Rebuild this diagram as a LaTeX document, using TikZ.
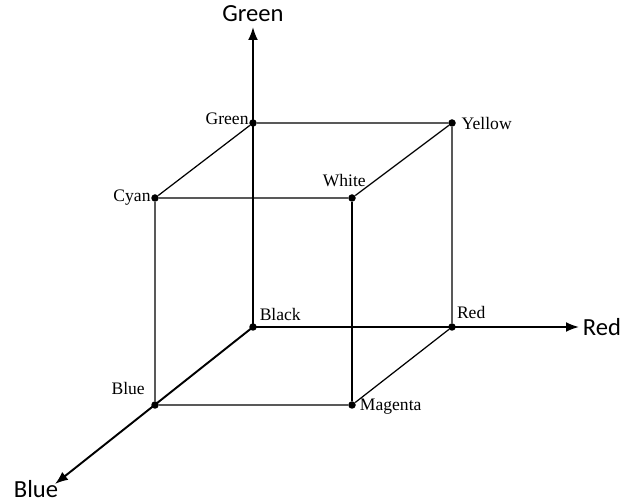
\documentclass[tikz,border=0pt]{standalone}
\usepackage{fontspec}
\setmainfont{Liberation Serif}
\newfontfamily\axisfont{Carlito}
\usetikzlibrary{arrows.meta,positioning}

\begin{document}
\begin{tikzpicture}[x=0.02cm, y=-0.02cm, >=Latex,
  corner/.style={circle, fill=black, inner sep=0pt, minimum size=0.15cm},
  vlabel/.style={font=\fontsize{10}{12}\selectfont, inner sep=1pt},
  alabel/.style={font=\axisfont\fontsize{14}{16}\selectfont, inner sep=1pt},
  axis/.style={->, line width=1.1pt, -{Latex[length=2.6mm,width=2mm]}},
  edge/.style={line width=0.7pt}]
\useasboundingbox (0,0) rectangle (622,502);

% cube corners
\node[corner] (black) at (253,327) {};
\node[corner] (red) at (452,327) {};
\node[corner] (green) at (253,123) {};
\node[corner] (yellow) at (452,123) {};
\node[corner] (cyan) at (155,198) {};
\node[corner] (white) at (352,198) {};
\node[corner] (blue) at (155,405) {};
\node[corner] (magenta) at (352,405) {};

% axis ends
\coordinate (gend) at (253,27);
\coordinate (rend) at (579,327);
\coordinate (bend) at (55,484);

\node[vlabel, anchor=south east] at ([xshift=1pt,yshift=-2pt]green.west) {Green};
\node[vlabel, anchor=west] at ([xshift=2pt]yellow.east) {Yellow};
\node[vlabel, anchor=east] at ([xshift=1pt]cyan.west) {Cyan};
\node[vlabel, anchor=south east] at ([xshift=9pt,yshift=3pt]white.north) {White};
\node[vlabel, anchor=south west] at ([xshift=1pt,yshift=1pt]black.north east) {Black};
\node[vlabel, anchor=south west] at ([xshift=0pt,yshift=2pt]red.north east) {Red};
\node[vlabel, anchor=south east] at ([xshift=-3pt,yshift=3pt]blue.north west) {Blue};
\node[vlabel, anchor=west] at ([xshift=1pt,yshift=-1pt]magenta.east) {Magenta};

\node[alabel, anchor=south] (glab) at ([yshift=2pt]gend) {Green};
\node[alabel, anchor=west] (rlab) at ([xshift=1pt]rend) {Red};
\node[alabel, anchor=east] (blab) at ([xshift=3pt,yshift=-3pt]bend) {Blue};

% axes
\draw[axis] (black.center) -- (gend);
\draw[axis] (black.center) -- (rend);
\draw[axis] (black.center) -- (bend);

% cube edges
\draw[edge] (green) -- (yellow) -- (red) -- (magenta) -- (blue) -- (cyan) -- (green);
\draw[edge] (cyan) -- (white) -- (yellow);
\draw[edge] (white) -- (magenta);

\end{tikzpicture}
\end{document}
